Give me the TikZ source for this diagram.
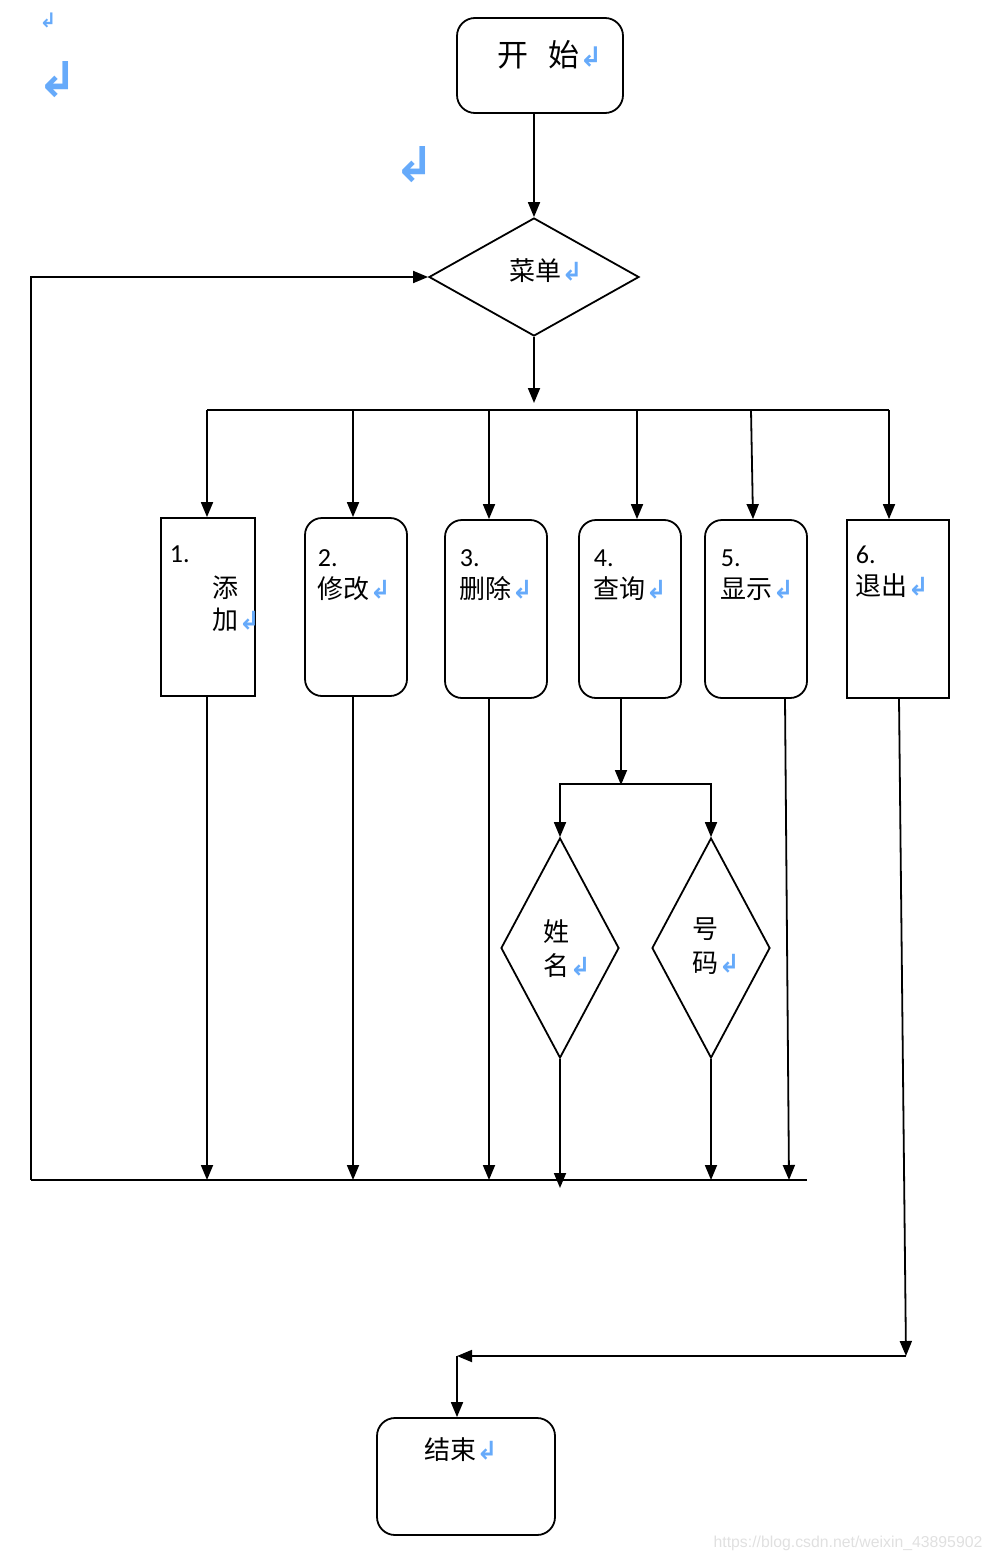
\documentclass[tikz,border=0pt]{standalone}
\usepackage{fontspec}
\setmainfont{Carlito}
\newfontfamily\cjk{Noto Sans CJK SC}
\newfontfamily\dejavu{DejaVu Sans}
\newfontfamily\wmfont{Liberation Sans}
\usetikzlibrary{positioning,shapes.geometric,arrows.meta}
\definecolor{markblue}{RGB}{102,170,250}
\newcommand{\pmark}[1][25]{{\color{markblue}\dejavu\bfseries\fontsize{#1}{#1}\selectfont\symbol{"21B2}}}

\begin{document}
\begin{tikzpicture}[x=1pt,y=-1pt,line width=1.8pt,
    >={Triangle[width=12pt,length=15pt]},
    roundbox/.style={draw,rounded corners=17pt,minimum width=102pt,minimum height=178pt,inner sep=0pt},
    squarebox/.style={draw,minimum width=102pt,minimum height=178pt,inner sep=0pt},
    choice/.style={draw,diamond,minimum width=118pt,minimum height=220pt,inner sep=0pt},
    words/.style={inner sep=0pt,align=left,font=\fontsize{26}{32}\selectfont}]
  \useasboundingbox (0,0) rectangle (992,1562);

  % stray paragraph marks
  \node[inner sep=0pt] (mark1) at (48,20) {\pmark[20]};
  \node[inner sep=0pt] (mark2) at (58,80) {\pmark[48]};
  \node[inner sep=0pt] (mark3) at (415,165) {\pmark[48]};

  % start and menu
  \node[draw,rounded corners=18pt,minimum width=166pt,minimum height=95pt] (start) at (540,65.5) {};
  \node[words,font=\cjk\fontsize{31}{36}\selectfont] (startt) at (550,55) {开\hspace{20pt}始\pmark[27]};
  \node[draw,diamond,minimum width=210pt,minimum height=118pt,inner sep=0pt] (menu) at (534,277) {};
  \node[words] (menut) at (546,271) {\cjk 菜单\pmark};

  \draw[->] (start.south -| menu.north) -- (menu.north);
  \coordinate (busin) at (534,403);
  \draw[->] (menu.south) -- (busin);

  % the six choices
  \node[squarebox,minimum width=94pt] (add) at (208,607) {};
  \node[roundbox] (modify) at (356,607) {};
  \node[roundbox] (delete) at (496,609) {};
  \node[roundbox] (query) at (630,609) {};
  \node[roundbox] (show) at (756,609) {};
  \node[squarebox] (quit) at (898,609) {};

  \node[words,anchor=north west] (addnum) at (169,545) {1.};
  \node[words,anchor=north west] (addt) at (212,575) {\cjk 添\\\cjk 加\pmark};
  \node[words,anchor=north west] (modifyt) at (317,549) {2.\\\cjk 修改\pmark};
  \node[words,anchor=north west] (deletet) at (459,549) {3.\\\cjk 删除\pmark};
  \node[words,anchor=north west] (queryt) at (593,549) {4.\\\cjk 查询\pmark};
  \node[words,anchor=north west] (showt) at (720,549) {5.\\\cjk 显示\pmark};
  \node[words,anchor=north west] (quitt) at (855,545) {6.\\\cjk 退出\pmark};

  \coordinate (s1) at (207,410);
  \coordinate (s2) at (353,410);
  \coordinate (s3) at (489,410);
  \coordinate (s4) at (637,410);
  \coordinate (s5) at (751,410);
  \coordinate (s6) at (889,410);
  \draw (s1) -- (s6);
  \draw[->] (s1) -- (s1 |- add.north);
  \draw[->] (s2) -- (s2 |- modify.north);
  \draw[->] (s3) -- (s3 |- delete.north);
  \draw[->] (s4) -- (s4 |- query.north);
  \draw[->] (s5) -- ([xshift=-3pt]show.north);
  \draw[->] (s6) -- (s6 |- quit.north);

  % search by name or number
  \node[choice] (name) at (560,948) {};
  \node[choice] (number) at (711,948) {};
  \node[words,anchor=north west,font=\fontsize{26}{34}\selectfont] (namet) at (543,919) {\cjk 姓\\\cjk 名\pmark};
  \node[words,anchor=north west,font=\fontsize{26}{34}\selectfont] (numbert) at (692,917) {\cjk 号\\\cjk 码\pmark};

  \coordinate (split) at (621,784);
  \draw[->] ([xshift=-9pt]query.south) -- ([yshift=-1pt]split);
  \draw[->] (split) -| (name.north);
  \draw[->] (split) -| (number.north);

  % back to the menu
  \coordinate (e0) at (31,1180);
  \coordinate (e1) at (807,1180);
  \draw (e0) -- (e1);
  \draw[->] (e0) |- (menu.west);
  \draw[->] (add.south -| s1) -- (s1 |- e0);
  \draw[->] (modify.south -| s2) -- (s2 |- e0);
  \draw[->] (delete.south -| s3) -- (s3 |- e0);
  \draw[->] (name.south) -- ([yshift=-8pt]name.south |- e0);
  \draw[->] (number.south) -- (number.south |- e0);
  \draw[->] ([xshift=29pt]show.south) -- (789,1180);

  % exit
  \node[draw,rounded corners=18pt,minimum width=178pt,minimum height=117pt] (stop) at (466,1476.5) {};
  \node[words] (stopt) at (461,1450) {\cjk 结束\pmark};
  \coordinate (x6) at (906,1356);
  \coordinate (turn) at (457,1356);
  \draw[->] ([xshift=1pt]quit.south) -- (x6);
  \draw[->] (x6) -- (turn);
  \draw[->] (turn) -- (turn |- stop.north);

  \node[inner sep=0pt,text=black!12,font=\wmfont\fontsize{15.8}{16}\selectfont] (wm) at (848,1543) {https://blog.csdn.net/weixin\_43895902};
\end{tikzpicture}
\end{document}
